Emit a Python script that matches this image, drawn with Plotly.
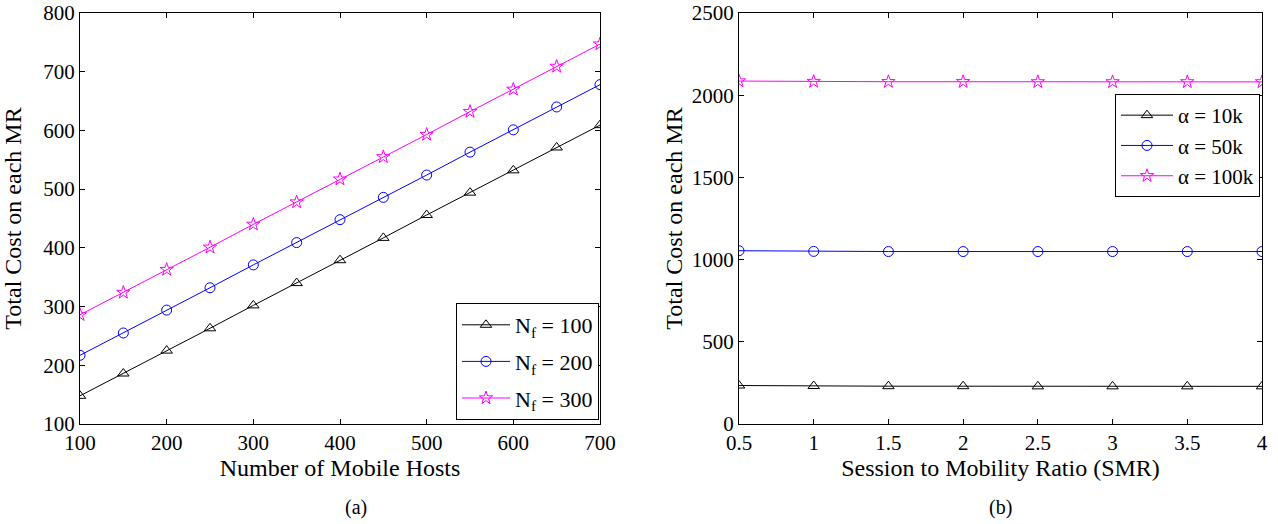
import plotly.graph_objects as go

# ---- data (a) ----
hosts = [100, 150, 200, 250, 300, 350, 400, 450, 500, 550, 600, 650, 700]
cost_nf100 = [148, 186, 225, 263, 302, 340, 379, 417, 456, 494, 532, 571, 609]
cost_nf200 = [217, 255, 294, 332, 371, 409, 448, 486, 524, 563, 601, 640, 678]
cost_nf300 = [286, 324, 363, 401, 440, 478, 517, 555, 593, 632, 670, 709, 747]

# ---- data (b) ----
smr = [0.5, 1, 1.5, 2, 2.5, 3, 3.5, 4]
cost_a10k = [234, 231, 230, 230, 229, 229, 229, 229]
cost_a50k = [1054, 1050, 1049, 1049, 1049, 1049, 1049, 1049]
cost_a100k = [2086, 2083, 2082, 2082, 2081, 2081, 2081, 2081]

x_ticks_a = [100, 200, 300, 400, 500, 600, 700]
y_ticks_a = [100, 200, 300, 400, 500, 600, 700, 800]
x_ticks_b = [0.5, 1, 1.5, 2, 2.5, 3, 3.5, 4]
x_labels_b = ["0.5", "1", "1.5", "2", "2.5", "3", "3.5", "4"]
y_ticks_b = [0, 500, 1000, 1500, 2000, 2500]

FONT = "Liberation Serif, Times New Roman, serif"

fig = go.Figure()

def add(x, y, name, color, symbol, xa, ya, legend, group):
    fig.add_trace(go.Scatter(
        x=x, y=y, name=name, mode="lines+markers",
        line=dict(color=color, width=1),
        marker=dict(symbol=symbol, size=10, color=color, line=dict(color=color, width=1)),
        xaxis=xa, yaxis=ya, legend=legend, legendgroup=group))

add(hosts, cost_nf100, "N<sub>f</sub> = 100", "black", "triangle-up-open", "x", "y", "legend", "a1")
add(hosts, cost_nf200, "N<sub>f</sub> = 200", "blue", "circle-open", "x", "y", "legend", "a2")
add(hosts, cost_nf300, "N<sub>f</sub> = 300", "magenta", "star-open", "x", "y", "legend", "a3")

add(smr, cost_a10k, "α = 10k", "black", "triangle-up-open", "x2", "y2", "legend2", "b1")
add(smr, cost_a50k, "α = 50k", "blue", "circle-open", "x2", "y2", "legend2", "b2")
add(smr, cost_a100k, "α = 100k", "magenta", "star-open", "x2", "y2", "legend2", "b3")

W, H = 1278, 524
PL, PR, PT, PB = 80, 1262, 13, 424
ml, mr, mt, mb = PL, W - PR, PT, H - PB
pw = W - ml - mr
ph = H - mt - mb

def px(xp):
    return (xp - ml) / pw

def py(yp):
    return (PB - yp) / ph

axis_common = dict(
    showline=True, linecolor="black", linewidth=1, mirror="allticks",
    ticks="inside", ticklen=5, tickcolor="black", showgrid=False, zeroline=False,
    automargin=False, ticklabeloverflow="allow",
    tickfont=dict(family=FONT, size=21, color="black"),
    title_font=dict(family=FONT, size=24, color="black"),
)

fig.update_layout(
    width=W, height=H,
    margin=dict(l=ml, r=mr, t=mt, b=mb),
    plot_bgcolor="white", paper_bgcolor="white",
    font=dict(family=FONT, color="black"),
    showlegend=True,
    xaxis=dict(domain=[0, px(600)], range=[100, 700], tickvals=x_ticks_a,
               title=dict(text="Number of Mobile Hosts", standoff=2), **axis_common),
    yaxis=dict(range=[100, 800], tickvals=y_ticks_a,
               title=dict(text="Total Cost on each MR", standoff=16), **axis_common),
    xaxis2=dict(domain=[px(739), 1], range=[0.5, 4], tickvals=x_ticks_b,
                ticktext=x_labels_b,
                title=dict(text="Session to Mobility Ratio (SMR)", standoff=2), anchor="y2", **axis_common),
    yaxis2=dict(range=[0, 2500], tickvals=y_ticks_b, anchor="x2",
                title=dict(text="Total Cost on each MR", standoff=2), **axis_common),
    legend=dict(x=px(599), xanchor="right", y=py(420), yanchor="bottom",
                bgcolor="white", bordercolor="black", borderwidth=1,
                font=dict(family=FONT, size=22, color="black"), itemwidth=48,
                tracegroupgap=5),
    legend2=dict(x=px(1260), xanchor="right", y=py(94), yanchor="top",
                 bgcolor="white", bordercolor="black", borderwidth=1,
                 font=dict(family=FONT, size=21, color="black"), itemwidth=52,
                 tracegroupgap=0),
    annotations=[
        dict(text="(a)", x=px(356), y=py(507), xref="paper", yref="paper",
             xanchor="center", yanchor="middle",
             showarrow=False, font=dict(family=FONT, size=20, color="black")),
        dict(text="(b)", x=px(1000), y=py(507), xref="paper", yref="paper",
             xanchor="center", yanchor="middle",
             showarrow=False, font=dict(family=FONT, size=20, color="black")),
    ],
)

# remove the default 8px page margin so the figure fills the window exactly
fig.write_html("out.html",
               config={"displayModeBar": False},
               post_script="document.body.style.margin='0';document.body.style.padding='0';")
